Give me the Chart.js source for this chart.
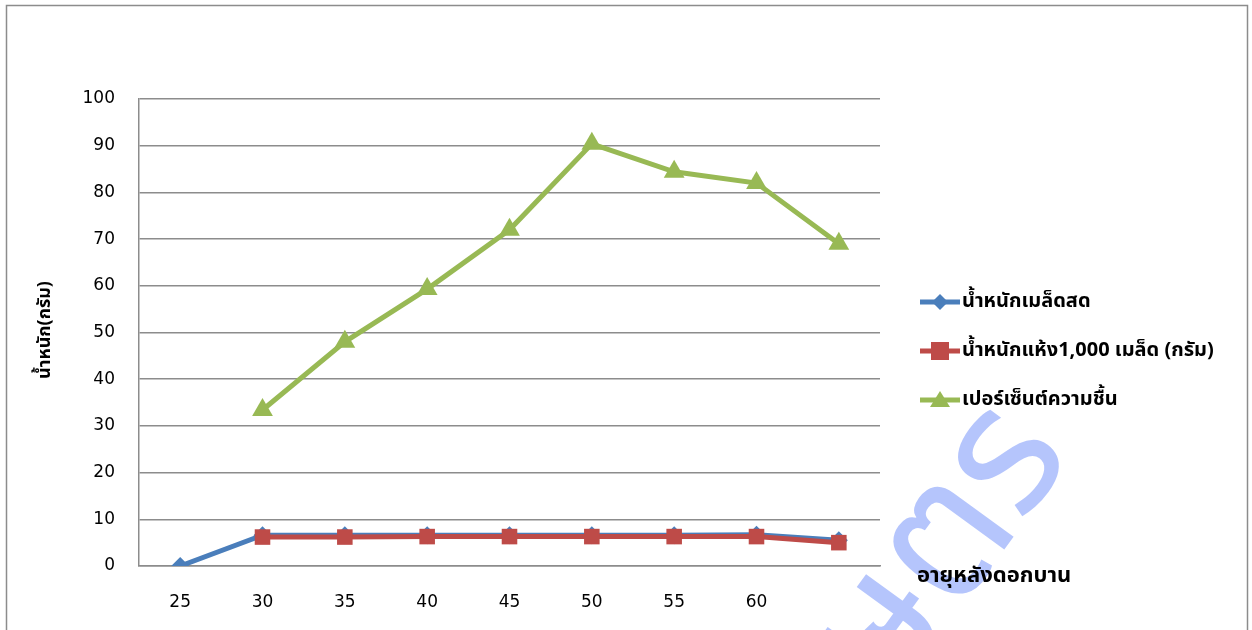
<!DOCTYPE html>
<html><head><meta charset="utf-8">
<script src="https://cdn.jsdelivr.net/npm/chart.js@4.4.0/dist/chart.umd.min.js"></script>
<style>html,body{margin:0;padding:0;background:#fff;}#wrap{width:1252px;height:630px;position:relative;}</style>
</head><body><div id="wrap"><canvas id="c" width="1252" height="630"></canvas></div>
<script>
const categories = ['25','30','35','40','45','50','55','60',''];
const freshWeight = [0, 6.6, 6.6, 6.6, 6.6, 6.6, 6.6, 6.7, 5.5];
const dryWeight1000 = [null, 6.2, 6.2, 6.3, 6.3, 6.3, 6.3, 6.3, 5.0];
const moisturePct = [null, 33.4, 48, 59.3, 72, 90.4, 84.4, 82, 69];
const seriesNames = ['น้ำหนักเมล็ดสด', 'น้ำหนักแห้ง1,000 เมล็ด (กรัม)', 'เปอร์เซ็นต์ความชื้น'];
const yTitle = 'น้ำหนัก(กรัม)';
const xTitle = 'อายุหลังดอกบาน';
const watermark = 'เกษตร';
const FONT = "'Noto Sans Thai','Noto Sans','DejaVu Sans',sans-serif";
const NUMFONT = "'DejaVu Sans',sans-serif";

const decor = {
  id: 'decor',
  beforeDraw(chart) {
    const ctx = chart.ctx;
    ctx.save();
    ctx.fillStyle = '#fff';
    ctx.fillRect(0, 0, chart.width, chart.height);
    ctx.strokeStyle = '#8c8c8c';
    ctx.lineWidth = 1.5;
    ctx.strokeRect(6.5, 5.5, 1241, 640);
    ctx.restore();
  },
  afterDraw(chart) {
    const ctx = chart.ctx;
    const ca = chart.chartArea;
    // watermark
    ctx.save();
    ctx.translate(905, 625);
    ctx.rotate(-54 * Math.PI / 180);
    ctx.fillStyle = 'rgba(120,150,250,0.55)';
    ctx.font = '178px ' + FONT;
    ctx.textAlign = 'center';
    ctx.textBaseline = 'middle';
    ctx.fillText(watermark, 0, 0);
    ctx.restore();
    ctx.save();
    // y title
    ctx.translate(46, 330);
    ctx.rotate(-Math.PI / 2);
    ctx.fillStyle = '#000';
    ctx.font = 'bold 18px ' + FONT;
    ctx.textAlign = 'center';
    ctx.textBaseline = 'middle';
    ctx.fillText(yTitle, 0, 0);
    ctx.restore();
    // x title
    ctx.save();
    ctx.fillStyle = '#000';
    ctx.font = 'bold 22px ' + FONT;
    ctx.textAlign = 'left';
    ctx.textBaseline = 'middle';
    ctx.fillText(xTitle, 917, ca.bottom + 12);
    ctx.restore();
    // legend
    const ys = [302, 351, 400];
    chart.data.datasets.forEach((ds, i) => {
      const y = ys[i];
      ctx.save();
      ctx.strokeStyle = ds.borderColor;
      ctx.lineWidth = 5;
      ctx.beginPath();
      ctx.moveTo(920, y);
      ctx.lineTo(960, y);
      ctx.stroke();
      ctx.fillStyle = ds.backgroundColor;
      const cx = 940;
      ctx.beginPath();
      if (ds.pointStyle === 'rectRot') {
        ctx.moveTo(cx, y - 8); ctx.lineTo(cx + 8, y); ctx.lineTo(cx, y + 8); ctx.lineTo(cx - 8, y);
      } else if (ds.pointStyle === 'rect') {
        ctx.rect(cx - 9, y - 9, 18, 18);
      } else {
        ctx.moveTo(cx, y - 9); ctx.lineTo(cx + 10, y + 7); ctx.lineTo(cx - 10, y + 7);
      }
      ctx.closePath();
      ctx.fill();
      ctx.fillStyle = '#000';
      ctx.font = 'bold 20px ' + FONT;
      ctx.textBaseline = 'middle';
      ctx.fillText(ds.label, 962, y + 1);
      ctx.restore();
    });
  }
};

new Chart(document.getElementById('c'), {
  type: 'line',
  data: {
    labels: categories,
    datasets: [
      { label: seriesNames[0], data: freshWeight, borderColor: '#4a7ebb', backgroundColor: '#4a7ebb', borderWidth: 5, pointStyle: 'rectRot', pointRadius: 9, pointBorderWidth: 0, order: 2 },
      { label: seriesNames[1], data: dryWeight1000, borderColor: '#be4b48', backgroundColor: '#be4b48', borderWidth: 5, pointStyle: 'rect', pointRadius: 11, pointBorderWidth: 0, order: 1 },
      { label: seriesNames[2], data: moisturePct, borderColor: '#98b954', backgroundColor: '#98b954', borderWidth: 5, pointStyle: 'triangle', pointRadius: 12, pointBorderWidth: 0, order: 0 }
    ]
  },
  options: {
    responsive: false,
    animation: false,
    spanGaps: false,
    layout: { padding: { left: 20, right: 372, top: 99, bottom: 15 } },
    plugins: { legend: { display: false }, tooltip: { enabled: false } },
    elements: { line: { tension: 0 } },
    scales: {
      x: {
        offset: true,
        grid: { display: false, drawTicks: false },
        border: { display: true, color: '#8c8c8c', width: 1.5 },
        ticks: { color: '#000', font: { family: NUMFONT, size: 17 }, padding: 26, maxRotation: 0, autoSkip: false },
        afterFit(s) { s.height = 49; }
      },
      y: {
        min: 0, max: 100,
        grid: { color: '#8c8c8c', lineWidth: 1.5, drawTicks: false },
        border: { display: true, color: '#8c8c8c', width: 1.5 },
        ticks: { stepSize: 10, color: '#000', font: { family: NUMFONT, size: 17 }, padding: 24 },
        afterFit(s) { s.width = 119; }
      }
    }
  },
  plugins: [decor]
});
</script></body></html>
